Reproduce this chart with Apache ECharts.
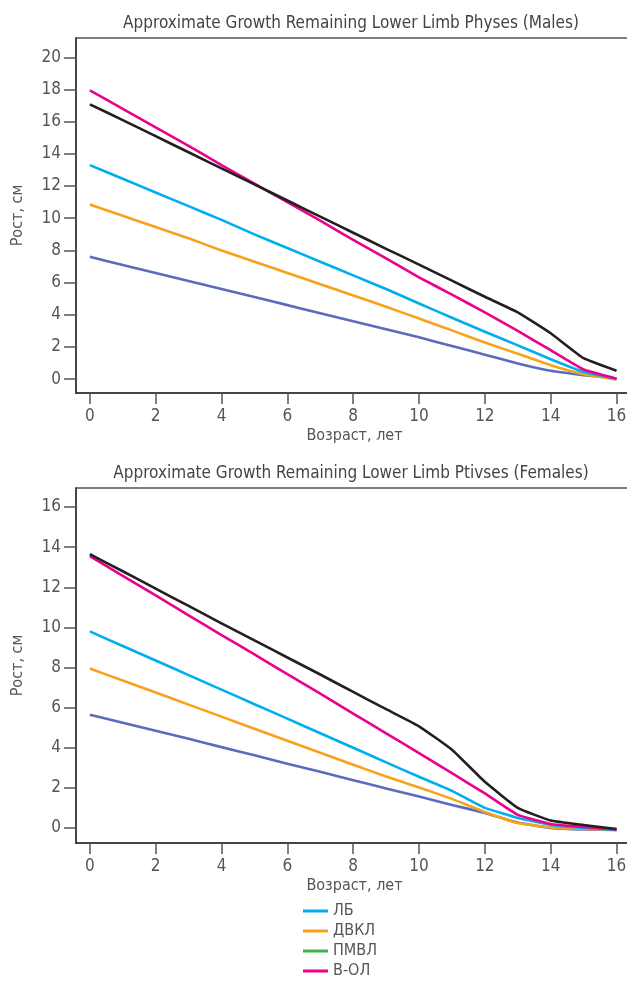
<!DOCTYPE html>
<html>
<head>
<meta charset="utf-8">
<script src="https://cdn.jsdelivr.net/npm/echarts@6/dist/echarts.min.js"></script>
<style>
  html, body { margin: 0; padding: 0; background: #fff; overflow: hidden; }
  #chart { width: 627px; height: 994px; }
</style>
</head>
<body>
<div id="chart"></div>
<script>
  // возраст, лет
  var ages = [0, 1, 2, 3, 4, 5, 6, 7, 8, 9, 10, 11, 12, 13, 14, 15, 16]
  var xTicks = [0, 2, 4, 6, 8, 10, 12, 14, 16]
  var yTicksMale = [0, 2, 4, 6, 8, 10, 12, 14, 16, 18, 20]
  var yTicksFemale = [0, 2, 4, 6, 8, 10, 12, 14, 16]

  var legendNames = ['ЛБ', 'ДВКЛ', 'ПМВЛ', 'В-ОЛ']

  // мальчики
  var maleLB = [13.3, 12.45, 11.6, 10.75, 9.9, 9.0, 8.15, 7.3, 6.45, 5.6, 4.7, 3.82, 2.95, 2.1, 1.24, 0.45, 0.03]
  var maleDVKL = [10.85, 10.15, 9.45, 8.75, 8.0, 7.3, 6.6, 5.9, 5.2, 4.5, 3.77, 3.03, 2.28, 1.58, 0.87, 0.31, -0.02]
  var malePMVL = []
  var maleVOL = [17.95, 16.8, 15.65, 14.5, 13.3, 12.15, 11.0, 9.85, 8.65, 7.5, 6.33, 5.25, 4.15, 3.0, 1.8, 0.6, 0.03]
  var maleSlate = [7.6, 7.1, 6.6, 6.1, 5.6, 5.1, 4.6, 4.1, 3.6, 3.1, 2.6, 2.06, 1.52, 0.98, 0.52, 0.25, 0.04]
  var maleBlack = [17.08, 16.1, 15.1, 14.1, 13.1, 12.1, 11.1, 10.1, 9.1, 8.1, 7.12, 6.12, 5.12, 4.15, 2.85, 1.3, 0.52]

  // девочки
  var femaleLB = [9.8, 9.07, 8.35, 7.62, 6.9, 6.17, 5.45, 4.72, 4.0, 3.27, 2.55, 1.85, 1.0, 0.5, 0.15, 0.0, -0.1]
  var femaleDVKL = [7.95, 7.35, 6.75, 6.15, 5.55, 4.95, 4.35, 3.75, 3.15, 2.57, 2.02, 1.45, 0.8, 0.25, 0.03, -0.05, -0.1]
  var femalePMVL = []
  var femaleVOL = [13.55, 12.57, 11.6, 10.6, 9.62, 8.65, 7.67, 6.7, 5.7, 4.72, 3.73, 2.73, 1.72, 0.65, 0.2, 0.05, -0.07]
  var femaleSlate = [5.65, 5.25, 4.85, 4.45, 4.03, 3.62, 3.2, 2.8, 2.38, 1.97, 1.57, 1.15, 0.75, 0.27, 0.0, -0.08, -0.1]
  var femaleBlack = [13.65, 12.8, 11.93, 11.07, 10.2, 9.35, 8.5, 7.65, 6.78, 5.92, 5.07, 3.9, 2.3, 1.0, 0.37, 0.15, -0.05]

  var colors = {
    'ЛБ': '#00aeef',
    'ДВКЛ': '#f9a11b',
    'ПМВЛ': '#39b54a',
    'В-ОЛ': '#ec008c',
    'Линия 5': '#5b6bbd',
    'Линия 6': '#231f20',
  }

  var font = "'DejaVu Sans Condensed', 'DejaVu Sans', sans-serif"
  var textColor = '#555'

  function pairs(vals) {
    return vals.map(function (v, i) {
      return [ages[i], v]
    })
  }

  function line(name, vals, idx) {
    return {
      name: name,
      type: 'line',
      xAxisIndex: idx,
      yAxisIndex: idx,
      data: pairs(vals),
      smooth: 0.12,
      showSymbol: false,
      symbol: 'none',
      lineStyle: { width: 2.6, color: colors[name], join: 'round' },
      itemStyle: { color: colors[name] },
      z: 3,
    }
  }

  function xAxis(idx) {
    return {
      type: 'value',
      gridIndex: idx,
      min: -0.42,
      max: 16.5,
      name: 'Возраст, лет',
      nameLocation: 'middle',
      nameGap: 35,
      nameTextStyle: { fontFamily: font, fontSize: 16, color: textColor },
      axisLine: { show: true, onZero: false, lineStyle: { color: '#333', width: 1.5 } },
      axisTick: { show: true, length: 11, customValues: xTicks, lineStyle: { color: '#555', width: 1.5 } },
      axisLabel: { customValues: xTicks, margin: 15, fontFamily: font, fontSize: 17, color: textColor },
      splitLine: { show: false },
    }
  }

  function yAxis(idx, min, max, ticks) {
    return {
      type: 'value',
      gridIndex: idx,
      min: min,
      max: max,
      name: 'Рост, см',
      nameLocation: 'middle',
      nameGap: 50,
      nameTextStyle: { fontFamily: font, fontSize: 16, color: textColor },
      axisLine: { show: true, onZero: false, lineStyle: { color: '#333', width: 1.5 } },
      axisTick: { show: true, length: 12, customValues: ticks, lineStyle: { color: '#555', width: 1.5 } },
      axisLabel: { customValues: ticks, margin: 15, fontFamily: font, fontSize: 17, color: textColor },
      splitLine: { show: false },
    }
  }

  var chart = echarts.init(document.getElementById('chart'), null, { renderer: 'canvas' })

  chart.setOption({
    backgroundColor: '#fff',
    animation: false,
    title: [
      {
        text: 'Approximate Growth Remaining Lower Limb Physes (Males)',
        left: 351,
        top: 15,
        textAlign: 'center',
        padding: 0,
        textStyle: { fontFamily: font, fontSize: 17, fontWeight: 'normal', color: '#444' },
      },
      {
        text: 'Approximate Growth Remaining Lower Limb Ptivses (Females)',
        left: 351,
        top: 465,
        textAlign: 'center',
        padding: 0,
        textStyle: { fontFamily: font, fontSize: 17, fontWeight: 'normal', color: '#444' },
      },
    ],
    legend: {
      data: legendNames,
      orient: 'vertical',
      left: 303,
      top: 903,
      icon: 'rect',
      itemWidth: 25,
      itemHeight: 3,
      itemGap: 4,
      padding: 0,
      textStyle: { fontFamily: font, fontSize: 16, color: textColor, padding: [0, 0, 0, 0] },
    },
    grid: [
      { left: 76, width: 557, top: 38, height: 355, outerBoundsMode: 'none', containLabel: false, show: true, borderColor: '#555', borderWidth: 1.5 },
      { left: 76, width: 557, top: 488, height: 355, outerBoundsMode: 'none', containLabel: false, show: true, borderColor: '#555', borderWidth: 1.5 },
    ],
    xAxis: [xAxis(0), xAxis(1)],
    yAxis: [yAxis(0, -0.86, 21.2, yTicksMale), yAxis(1, -0.75, 16.95, yTicksFemale)],
    series: [
      line('Линия 5', maleSlate, 0),
      line('ДВКЛ', maleDVKL, 0),
      line('ЛБ', maleLB, 0),
      line('ПМВЛ', malePMVL, 0),
      line('В-ОЛ', maleVOL, 0),
      line('Линия 6', maleBlack, 0),
      line('Линия 5', femaleSlate, 1),
      line('ДВКЛ', femaleDVKL, 1),
      line('ЛБ', femaleLB, 1),
      line('ПМВЛ', femalePMVL, 1),
      line('В-ОЛ', femaleVOL, 1),
      line('Линия 6', femaleBlack, 1),
    ],
  })
</script>
</body>
</html>
